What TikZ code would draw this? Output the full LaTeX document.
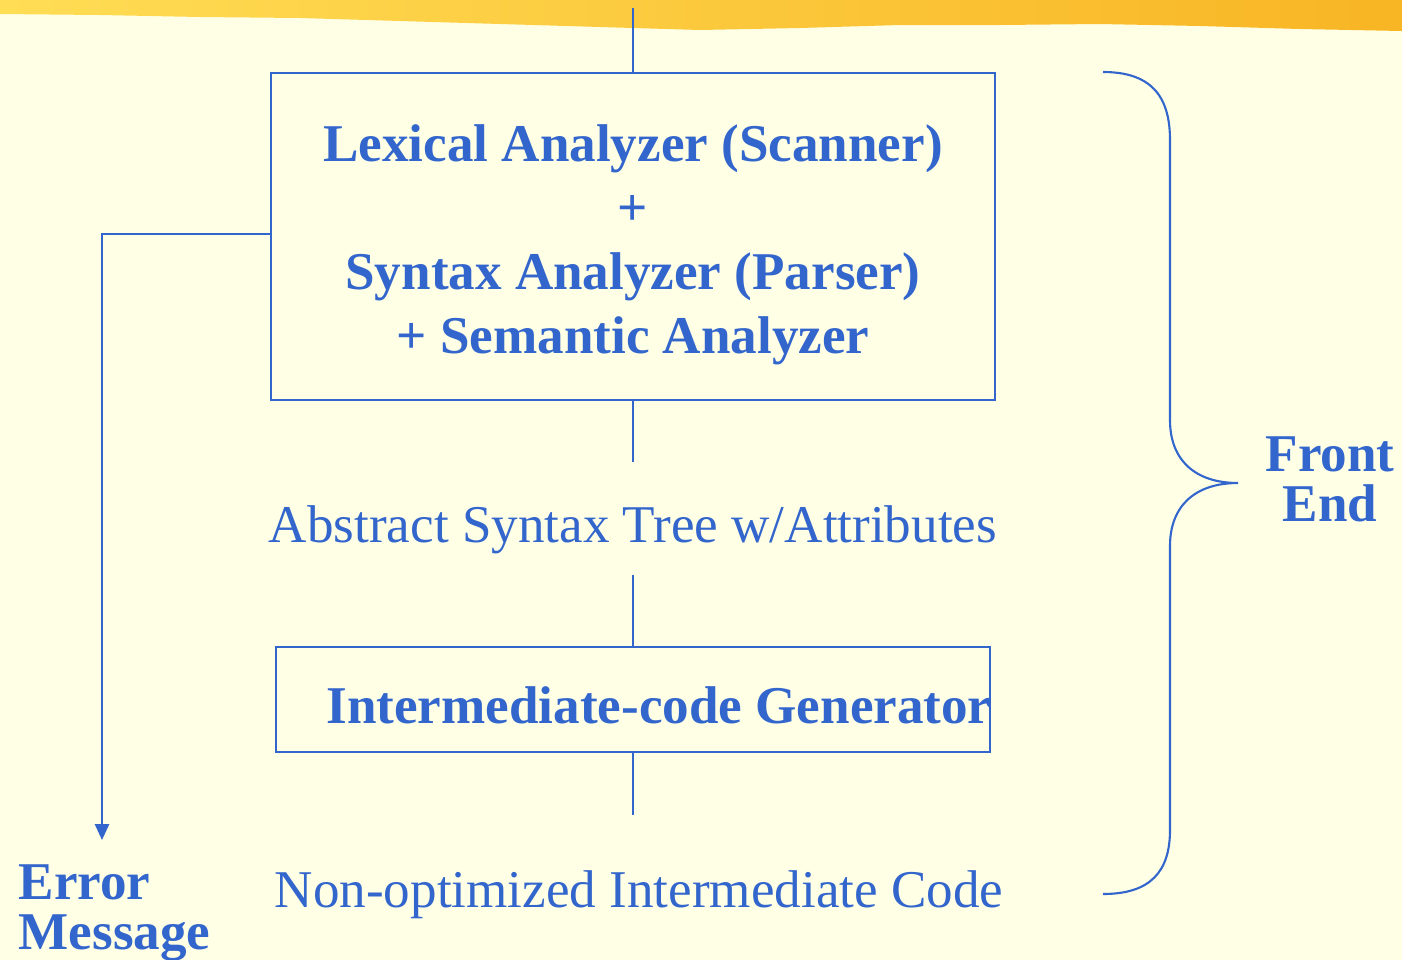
\documentclass[tikz,border=0pt]{standalone}
\usepackage{fontspec}
\setmainfont{Liberation Serif}
\usepackage{xcolor}
\usepackage{tikz}
\usetikzlibrary{arrows.meta, positioning, calc}

\definecolor{slideblue}{HTML}{3366CC}
\definecolor{slidebg}{HTML}{FFFFE6}
\definecolor{bandleft}{HTML}{FFDD55}
\definecolor{bandright}{HTML}{F8B524}

\begin{document}
\begin{tikzpicture}[
    x=0.01cm, y=-0.01cm,
    stage/.style={rectangle, draw=slideblue, line width=0.6pt, inner sep=0pt},
    boldtext/.style={text=slideblue, font=\fontsize{15.1}{18.2}\selectfont\bfseries, align=center, inner sep=0pt},
    tightbold/.style={boldtext, font=\fontsize{15.1}{14.2}\selectfont\bfseries},
    plaintext/.style={text=slideblue, font=\fontsize{15.1}{18.2}\selectfont, inner sep=0pt},
    link/.style={draw=slideblue, line width=0.6pt},
    arrow/.style={link, -{Triangle[length=4.5pt, width=4pt]}}
]
\useasboundingbox (0,0) rectangle (1402,960);

% Background and band
\fill[slidebg] (0,0) rectangle (1402,960);
\shade[left color=bandleft, right color=bandright]
    (0,0) -- (1402,0) -- (1402,31) -- (1300,29) -- (1200,26) -- (1100,24)
    -- (1000,25) -- (900,25) -- (800,28) -- (700,30) -- (600,27)
    -- (500,24) -- (400,21) -- (300,18) -- (200,17) -- (100,15) -- (0,14) -- cycle;

% Nodes
\node[stage, minimum width=7.24cm, minimum height=3.27cm] (front) at (633,236.5) {};
\node[boldtext] (fronttext) at (633,245) {Lexical Analyzer (Scanner)\\+\\Syntax Analyzer (Parser)\\+ Semantic Analyzer};
\node[plaintext] (ast) at (633,530) {Abstract Syntax Tree w/Attributes};
\node[stage, minimum width=7.14cm, minimum height=1.05cm] (icg) at (633,699.5) {};
\node[boldtext] (icgtext) at (659,705) {Intermediate-code Generator};
\node[plaintext] (ir) at (639,895) {Non-optimized Intermediate Code};
\node[tightbold, align=left, anchor=west] (err) at (18,913) {Error\\Message};
\node[tightbold] (fe) at (1330,479) {Front\\End};

% Stubs
\coordinate (srcend) at (633,8);
\coordinate (astin) at (633,462);
\coordinate (astout) at (633,575);
\coordinate (irin) at (633,815);
\coordinate (errcorner) at (102,234);
\coordinate (errend) at (102,840);

% Arrows
\draw[link] (srcend) -- (front.north);
\draw[link] (front.south) -- (astin);
\draw[link] (astout) -- (icg.north);
\draw[link] (icg.south) -- (irin);
\draw[arrow] (front.west |- errcorner) -- (errcorner) -- (errend);

% Brace
\draw[link] (1103,72) .. controls (1150,72) and (1170,95) .. (1170,140)
    -- (1170,420) .. controls (1170,460) and (1195,483) .. (1238,483)
    .. controls (1195,483) and (1170,506) .. (1170,546)
    -- (1170,830) .. controls (1170,872) and (1150,894) .. (1103,894);

\end{tikzpicture}
\end{document}
